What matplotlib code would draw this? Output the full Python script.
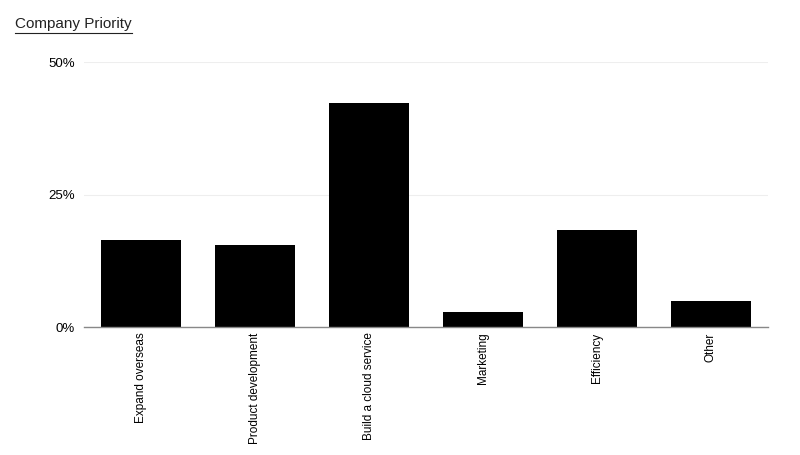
import matplotlib
matplotlib.use("Agg")
import matplotlib.pyplot as plt
from matplotlib.ticker import FuncFormatter

plt.rcParams["font.family"] = ["Liberation Sans", "DejaVu Sans"]

categories = ["Expand overseas", "Product development", "Build a cloud service",
              "Marketing", "Efficiency", "Other"]
shares = [16.4, 15.4, 42.2, 2.8, 18.3, 4.9]
yticks = [0, 25, 50]

fig = plt.figure(figsize=(8, 4.55), dpi=100)
ax = fig.add_axes([0.105, 0.2813, 0.855, 0.5824])

x = range(len(categories))
ax.bar(x, shares, width=0.71, color="black", zorder=2)

ax.set_xlim(-0.5, len(categories) - 0.5)
ax.set_ylim(0, 50)
ax.set_yticks(yticks)
ax.yaxis.set_major_formatter(FuncFormatter(lambda v, _: f"{v:.0f}%"))
ax.set_xticks(list(x))
ax.set_xticklabels(categories, rotation=90, fontsize=8.5, va="top")
ax.tick_params(axis="y", length=0, pad=6.5, labelsize=9.5)
ax.tick_params(axis="x", length=0, pad=4)

ax.grid(axis="y", color="#eeeeee", linewidth=0.8, zorder=0)
for side in ["top", "right", "left"]:
    ax.spines[side].set_visible(False)
ax.spines["bottom"].set_color("#888888")
ax.spines["bottom"].set_linewidth(1.0)
ax.spines["bottom"].set_zorder(3)

# title with an underline drawn under it
title = fig.text(15 / 800, 1 - 24 / 455, "Company Priority", fontsize=11,
                 ha="left", va="center", color="#222222")
fig.canvas.draw()
bb = title.get_window_extent().transformed(fig.transFigure.inverted())
uy = bb.y0 - 1.5 / 455
fig.add_artist(plt.Line2D([bb.x0, bb.x1], [uy, uy], color="#222222",
                          linewidth=0.8, transform=fig.transFigure))

fig.savefig("out.png", dpi=100)
